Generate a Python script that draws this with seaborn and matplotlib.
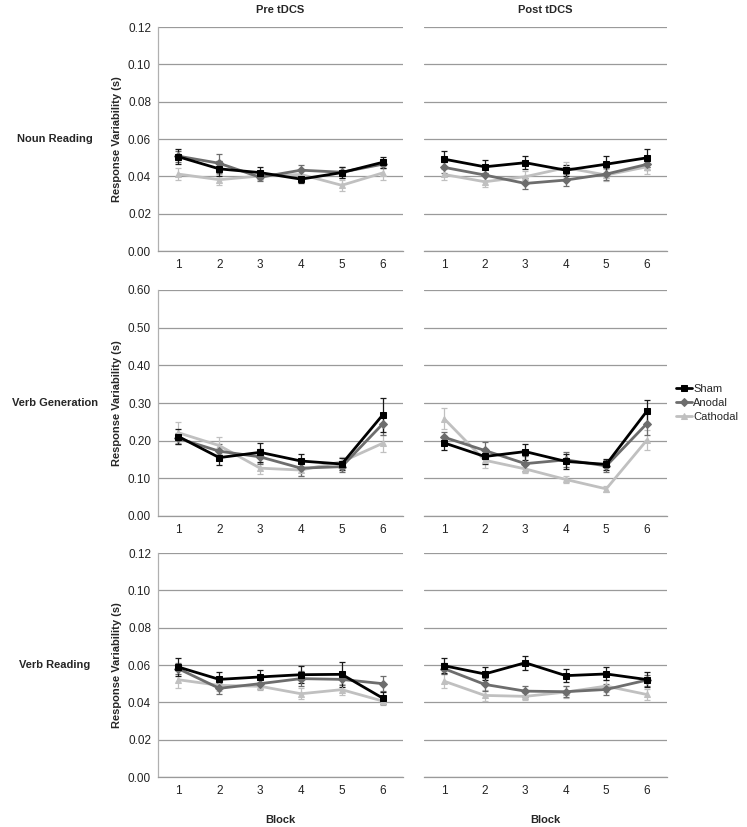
import numpy as np
import pandas as pd
import seaborn as sns
import matplotlib.pyplot as plt

# data
blocks = [1, 2, 3, 4, 5, 6]
conditions = ["Sham", "Anodal", "Cathodal"]
phases = ["Pre tDCS", "Post tDCS"]
tasks = ["Noun Reading", "Verb Generation", "Verb Reading"]

noun_pre_sham = [0.0505, 0.0440, 0.0420, 0.0385, 0.0420, 0.0475]
noun_pre_anodal = [0.0508, 0.0470, 0.0395, 0.0433, 0.0422, 0.0465]
noun_pre_cathodal = [0.0412, 0.0382, 0.0402, 0.0410, 0.0352, 0.0418]
noun_post_sham = [0.0492, 0.0451, 0.0473, 0.0433, 0.0465, 0.0499]
noun_post_anodal = [0.0448, 0.0407, 0.0362, 0.0380, 0.0412, 0.0464]
noun_post_cathodal = [0.0410, 0.0371, 0.0398, 0.0446, 0.0407, 0.0451]

vgen_pre_sham = [0.211, 0.155, 0.169, 0.146, 0.138, 0.268]
vgen_pre_anodal = [0.206, 0.172, 0.157, 0.127, 0.131, 0.244]
vgen_pre_cathodal = [0.221, 0.187, 0.127, 0.122, 0.144, 0.193]
vgen_post_sham = [0.194, 0.158, 0.171, 0.145, 0.137, 0.278]
vgen_post_anodal = [0.209, 0.174, 0.139, 0.149, 0.133, 0.245]
vgen_post_cathodal = [0.258, 0.148, 0.125, 0.097, 0.072, 0.201]

vread_pre_sham = [0.0589, 0.0523, 0.0536, 0.0548, 0.0550, 0.0423]
vread_pre_anodal = [0.0580, 0.0475, 0.0500, 0.0527, 0.0523, 0.0500]
vread_pre_cathodal = [0.0521, 0.0491, 0.0486, 0.0446, 0.0468, 0.0407]
vread_post_sham = [0.0596, 0.0552, 0.0612, 0.0543, 0.0552, 0.0522]
vread_post_anodal = [0.0580, 0.0496, 0.0460, 0.0457, 0.0469, 0.0519]
vread_post_cathodal = [0.0513, 0.0437, 0.0432, 0.0455, 0.0487, 0.0442]

# standard errors
noun_pre_err = [[0.004, 0.004, 0.003, 0.002, 0.003, 0.003],
                [0.003, 0.005, 0.002, 0.003, 0.003, 0.002],
                [0.003, 0.003, 0.002, 0.003, 0.003, 0.004]]
noun_post_err = [[0.0045, 0.0035, 0.0035, 0.003, 0.0045, 0.005],
                 [0.003, 0.003, 0.003, 0.003, 0.003, 0.003],
                 [0.003, 0.003, 0.003, 0.003, 0.003, 0.004]]
vgen_pre_err = [[0.020, 0.020, 0.026, 0.018, 0.015, 0.044],
                [0.015, 0.020, 0.020, 0.020, 0.015, 0.030],
                [0.028, 0.022, 0.015, 0.015, 0.012, 0.022]]
vgen_post_err = [[0.018, 0.020, 0.021, 0.020, 0.015, 0.030],
                 [0.015, 0.022, 0.020, 0.020, 0.015, 0.030],
                 [0.028, 0.020, 0.012, 0.010, 0.008, 0.027]]
vread_pre_err = [[0.005, 0.004, 0.0035, 0.0045, 0.0066, 0.003],
                 [0.003, 0.003, 0.003, 0.004, 0.003, 0.004],
                 [0.0046, 0.003, 0.002, 0.003, 0.003, 0.002]]
vread_post_err = [[0.004, 0.0035, 0.0037, 0.0035, 0.0035, 0.004],
                  [0.003, 0.0035, 0.003, 0.003, 0.003, 0.003],
                  [0.0037, 0.003, 0.002, 0.003, 0.003, 0.003]]

panels = [
    [([noun_pre_sham, noun_pre_anodal, noun_pre_cathodal], noun_pre_err),
     ([noun_post_sham, noun_post_anodal, noun_post_cathodal], noun_post_err)],
    [([vgen_pre_sham, vgen_pre_anodal, vgen_pre_cathodal], vgen_pre_err),
     ([vgen_post_sham, vgen_post_anodal, vgen_post_cathodal], vgen_post_err)],
    [([vread_pre_sham, vread_pre_anodal, vread_pre_cathodal], vread_pre_err),
     ([vread_post_sham, vread_post_anodal, vread_post_cathodal], vread_post_err)],
]
y_max = [0.12, 0.60, 0.12]
y_step = [0.02, 0.10, 0.02]

colors = {"Sham": "#000000", "Anodal": "#6d6d6d", "Cathodal": "#c0c0c0"}
markers = {"Sham": "s", "Anodal": "D", "Cathodal": "^"}
msizes = {"Sham": 5, "Anodal": 4, "Cathodal": 5}

sns.set_theme(style="white")
plt.rcParams["font.family"] = ["Liberation Sans", "DejaVu Sans"]

fig = plt.figure(figsize=(7.47, 8.27), dpi=100)
W, H = 747, 827
col_x = [(158, 403), (424, 667)]
row_y = [(27, 251), (290, 516), (553, 777)]

for r in range(3):
    for c in range(2):
        x0, x1 = col_x[c]
        y0, y1 = row_y[r]
        ax = fig.add_axes([x0 / W, 1 - y1 / H, (x1 - x0) / W, (y1 - y0) / H])
        series, errs = panels[r][c]
        df = pd.DataFrame({
            "Block": np.tile(blocks, 3),
            "value": np.concatenate(series),
            "err": np.concatenate(errs),
            "cond": np.repeat(conditions, len(blocks)),
        })
        # error bars first, lines on top
        for cond in conditions[::-1]:
            d = df[df["cond"] == cond]
            ax.errorbar(d["Block"], d["value"], yerr=d["err"], fmt="none",
                        ecolor="#1a1a1a" if cond == "Sham" else colors[cond],
                        elinewidth=0.9, capsize=2.5, capthick=0.9, zorder=3)
        for cond in conditions[::-1]:
            d = df[df["cond"] == cond]
            sns.lineplot(data=d, x="Block", y="value", ax=ax, color=colors[cond],
                         marker=markers[cond], markersize=msizes[cond],
                         markeredgecolor=colors[cond], linewidth=2, label=cond,
                         zorder=4, legend=False)
        ax.set_xlim(0.5, 6.5)
        ax.set_ylim(0, y_max[r])
        ax.set_xticks(blocks)
        ax.set_yticks(np.arange(0, y_max[r] + 1e-9, y_step[r]))
        ax.yaxis.grid(True, color="#9a9a9a", linewidth=0.9)
        ax.set_axisbelow(True)
        for s in ["top", "right"]:
            ax.spines[s].set_visible(False)
        ax.spines["bottom"].set_color("#9a9a9a")
        ax.spines["bottom"].set_linewidth(0.9)
        ax.tick_params(axis="x", length=0, labelsize=8.5, pad=6, colors="#222222")
        if c == 0:
            ax.spines["left"].set_color("#b0b0b0")
            ax.spines["left"].set_linewidth(0.9)
            ax.set_yticklabels([f"{v:.2f}" for v in ax.get_yticks()])
            ax.tick_params(axis="y", length=2, color="#9a9a9a", labelsize=8.5,
                           pad=3, colors="#222222")
            ax.set_ylabel("Response Variability (s)", fontsize=8, fontweight="bold",
                          labelpad=4)
        else:
            ax.spines["left"].set_visible(False)
            ax.tick_params(axis="y", length=0, labelleft=False)
            ax.set_ylabel("")
        ax.set_xlabel("")
        if r == 0:
            ax.set_title(phases[c], fontsize=8, fontweight="bold", pad=10)
        if r == 2:
            fig.text((x0 + x1) / 2 / W, 1 - 820 / H, "Block", ha="center",
                     va="center", fontsize=8, fontweight="bold")
        if r == 1 and c == 1:
            handles, labels = ax.get_legend_handles_labels()
            order = [labels.index(k) for k in conditions]
            ax.legend([handles[i] for i in order], conditions, loc="center left",
                      bbox_to_anchor=(1.035, 0.50), frameon=False, fontsize=8,
                      handlelength=1.5, handletextpad=0.1, labelspacing=0.35,
                      borderaxespad=0, borderpad=0)
    fig.text(55 / W, 1 - (row_y[r][0] + row_y[r][1]) / 2 / H, tasks[r],
             ha="center", va="center", fontsize=8, fontweight="bold")

fig.savefig("out.png", dpi=100)
